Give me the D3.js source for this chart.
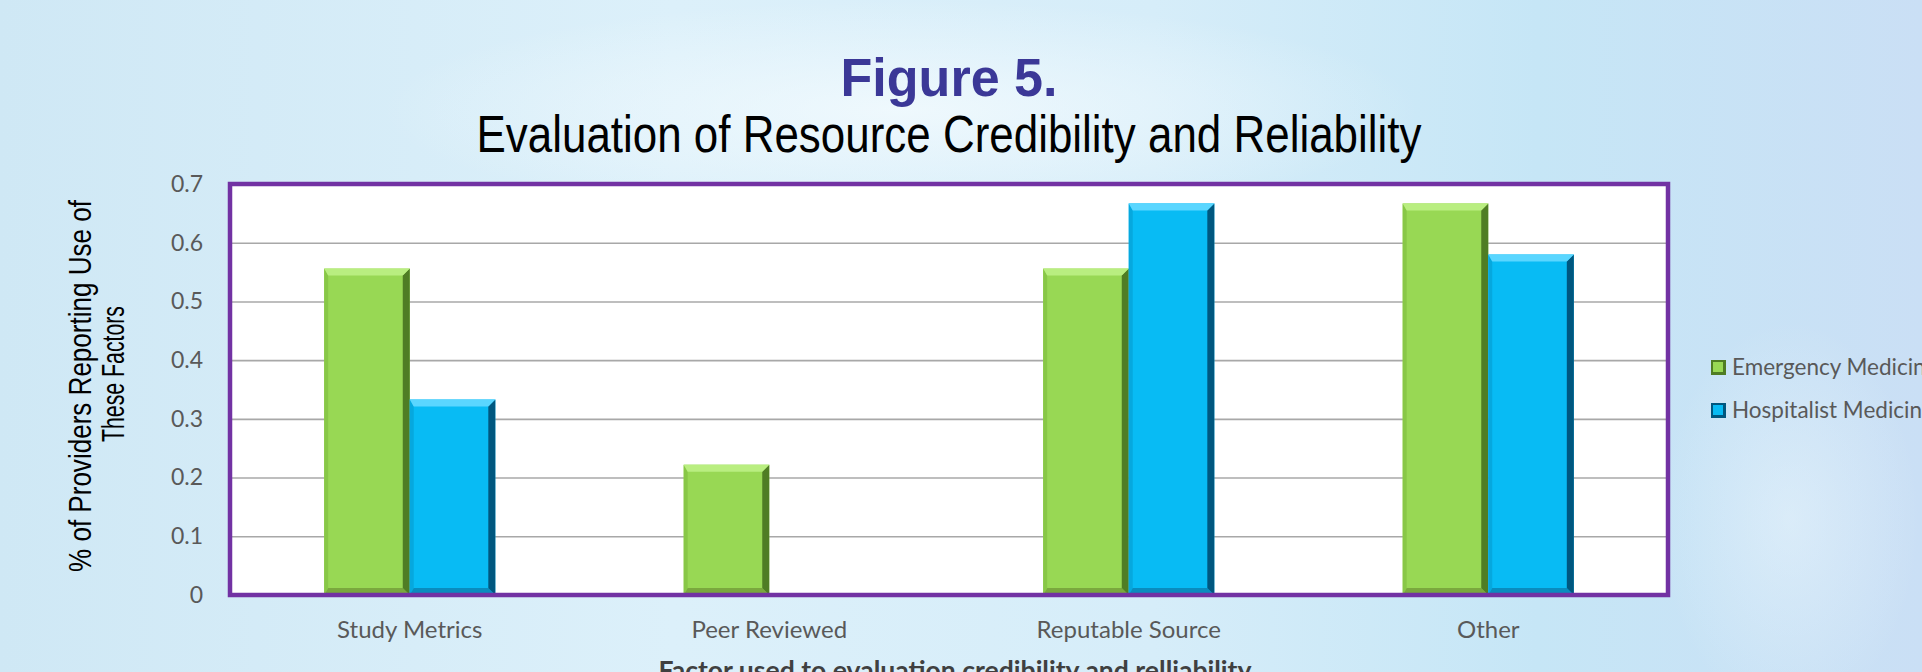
<!DOCTYPE html>
<html>
<head>
<meta charset="utf-8">
<script src="https://cdn.jsdelivr.net/npm/d3@7"></script>
<style>
  body { margin: 0; overflow: hidden; }
  svg { display: block; }
</style>
</head>
<body>
<div id="chart"></div>
<script>
// chart data
var categories = ["Study Metrics", "Peer Reviewed", "Reputable Source", "Other"];
var seriesNames = ["Emergency Medicine", "Hospitalist Medicine"];
var emergency = [0.556, 0.222, 0.556, 0.667];
var hospitalist = [0.333, 0, 0.667, 0.58];
var yTicks = [0, 0.1, 0.2, 0.3, 0.4, 0.5, 0.6, 0.7];

var w = 1922;
var h = 672;
var plot = {left: 230, right: 1668, top: 184, bottom: 595};

// colours per series: main, top bevel, right edge, bottom edge, left edge
var palette = [
    {main: "#98d854", top: "#b9ee80", right: "#4f7d24", bottom: "#7aa83e", left: "#88c747"},
    {main: "#08bbf4", top: "#5ad6ff", right: "#00577f", bottom: "#0a8cbe", left: "#06a8de"}
];

function init() {
    var svg = d3.select("#chart")
        .append("svg")
        .attr("width", w)
        .attr("height", h);

    drawBackground(svg);
    drawTitles(svg);

    var x = d3.scaleBand()
        .domain(categories)
        .range([plot.left, plot.right])
        .padding(0);

    var x1 = d3.scaleBand()
        .domain(seriesNames)
        .range([0, x.bandwidth() * 0.476])
        .padding(0);

    var y = d3.scaleLinear()
        .domain([0, 0.7])
        .range([plot.bottom, plot.top]);

    // plot area
    svg.append("rect")
        .attr("x", plot.left)
        .attr("y", plot.top)
        .attr("width", plot.right - plot.left)
        .attr("height", plot.bottom - plot.top)
        .attr("fill", "#ffffff");

    // gridlines
    svg.append("g")
        .attr("transform", "translate(" + plot.left + ",0)")
        .call(d3.axisLeft(y).tickValues(yTicks.slice(1, -1)).tickSize(-(plot.right - plot.left)).tickFormat(""))
        .call(function(g) {
            g.select(".domain").remove();
            g.selectAll("line").attr("stroke", "#a8a8a8").attr("stroke-width", 1.6);
        });

    // y axis labels
    svg.append("g")
        .attr("transform", "translate(" + (plot.left - 24) + ",0)")
        .call(d3.axisLeft(y).tickValues(yTicks).tickSize(0).tickFormat(function(d) { return d === 0 ? "0" : d3.format(".1f")(d); }))
        .call(function(g) {
            g.select(".domain").remove();
            g.selectAll("text")
                .attr("fill", "#595959")
                .style("font-family", "Lato, 'Open Sans', sans-serif")
                .style("font-size", "23px");
        });

    // bars
    var rows = [];
    categories.forEach(function(c, i) {
        rows.push({cat: c, s: 0, value: emergency[i]});
        rows.push({cat: c, s: 1, value: hospitalist[i]});
    });

    var groupOffset = (x.bandwidth() - x1.range()[1]) / 2;

    rows.forEach(function(d) {
        if (d.value <= 0) return;
        var x0 = x(d.cat) + groupOffset + x1(seriesNames[d.s]);
        var xr = x0 + x1.bandwidth();
        var y0 = y(d.value);
        var yb = y(0);
        var b = 7;
        var col = palette[d.s];
        var bar = svg.append("g");
        bar.append("rect")
            .attr("x", x0).attr("y", y0)
            .attr("width", xr - x0).attr("height", yb - y0)
            .attr("fill", col.main);
        bar.append("polygon") //left edge
            .attr("points", [[x0, y0], [x0 + 4, y0 + b], [x0 + 4, yb - b], [x0, yb]].join(" "))
            .attr("fill", col.left);
        bar.append("polygon") //bottom edge
            .attr("points", [[x0, yb], [x0 + 4, yb - b], [xr - b, yb - b], [xr, yb]].join(" "))
            .attr("fill", col.bottom);
        bar.append("polygon") //right edge
            .attr("points", [[xr, y0], [xr, yb], [xr - b, yb - b], [xr - b, y0 + b]].join(" "))
            .attr("fill", col.right);
        bar.append("polygon") //top bevel
            .attr("points", [[x0, y0], [xr, y0], [xr - b, y0 + b], [x0 + 4, y0 + b]].join(" "))
            .attr("fill", col.top);
    });

    // purple frame
    svg.append("rect")
        .attr("x", plot.left)
        .attr("y", plot.top)
        .attr("width", plot.right - plot.left)
        .attr("height", plot.bottom - plot.top)
        .attr("fill", "none")
        .attr("stroke", "#7232a3")
        .attr("stroke-width", 4.5);

    // category labels
    svg.append("g")
        .attr("transform", "translate(0," + (plot.bottom + 23) + ")")
        .call(d3.axisBottom(x).tickSize(0))
        .call(function(g) {
            g.select(".domain").remove();
            g.selectAll("text")
                .attr("fill", "#595959")
                .style("font-family", "Lato, 'Open Sans', sans-serif")
                .style("font-size", "24px");
        });

    // x axis title (cut by bottom edge as in the source)
    svg.append("text")
        .attr("x", 955)
        .attr("y", 680)
        .attr("text-anchor", "middle")
        .attr("textLength", 593)
        .attr("lengthAdjust", "spacingAndGlyphs")
        .attr("fill", "#404040")
        .style("font-family", "Lato, 'Open Sans', sans-serif")
        .style("font-weight", "bold")
        .style("font-size", "26px")
        .text("Factor used to evaluation credibility and relliability");

    // y axis title
    var yt = svg.append("g")
        .attr("transform", "translate(0,386) rotate(-90)");
    yt.append("text")
        .attr("x", 0).attr("y", 91)
        .attr("text-anchor", "middle")
        .attr("textLength", 372)
        .attr("lengthAdjust", "spacingAndGlyphs")
        .style("font-family", "'Liberation Sans Narrow', 'Liberation Sans', Arial, sans-serif")
        .style("font-size", "32px")
        .attr("fill", "#000")
        .text("% of Providers Reporting Use of");
    yt.append("text")
        .attr("x", 12).attr("y", 124)
        .attr("text-anchor", "middle")
        .attr("textLength", 136)
        .attr("lengthAdjust", "spacingAndGlyphs")
        .style("font-family", "'Liberation Sans Narrow', 'Liberation Sans', Arial, sans-serif")
        .style("font-size", "32px")
        .attr("fill", "#000")
        .text("These Factors");

    drawLegend(svg);
}

function drawBackground(svg) {
    var defs = svg.append("defs");
    var bg = defs.append("linearGradient").attr("id", "bg").attr("x1", "0").attr("x2", "1").attr("y1", "0").attr("y2", "0");
    bg.append("stop").attr("offset", "0%").attr("stop-color", "#cfe8f5");
    bg.append("stop").attr("offset", "35%").attr("stop-color", "#dcf0fa");
    bg.append("stop").attr("offset", "60%").attr("stop-color", "#d6edf9");
    bg.append("stop").attr("offset", "80%").attr("stop-color", "#c6e6f6");
    bg.append("stop").attr("offset", "100%").attr("stop-color", "#cadff5");

    var glow = defs.append("radialGradient").attr("id", "glow");
    glow.append("stop").attr("offset", "0%").attr("stop-color", "#f4fbfe").attr("stop-opacity", 0.8);
    glow.append("stop").attr("offset", "100%").attr("stop-color", "#f4fbfe").attr("stop-opacity", 0);

    svg.append("rect").attr("width", w).attr("height", h).attr("fill", "url(#bg)");
    svg.append("ellipse").attr("cx", 900).attr("cy", 110).attr("rx", 520).attr("ry", 110).attr("fill", "url(#glow)");
    svg.append("ellipse").attr("cx", 1790).attr("cy", 520).attr("rx", 130).attr("ry", 200).attr("fill", "url(#glow)").attr("opacity", 0.5);
}

function drawTitles(svg) {
    svg.append("text")
        .attr("x", 949)
        .attr("y", 96)
        .attr("text-anchor", "middle")
        .attr("textLength", 217)
        .attr("lengthAdjust", "spacingAndGlyphs")
        .attr("fill", "#3b3897")
        .style("font-family", "'Liberation Sans', Arial, sans-serif")
        .style("font-weight", "bold")
        .style("font-size", "53px")
        .text("Figure 5.");

    svg.append("text")
        .attr("x", 949)
        .attr("y", 152)
        .attr("text-anchor", "middle")
        .attr("textLength", 945)
        .attr("lengthAdjust", "spacingAndGlyphs")
        .attr("fill", "#000")
        .style("font-family", "'Liberation Sans Narrow', 'Liberation Sans', Arial, sans-serif")
        .style("font-size", "52px")
        .text("Evaluation of Resource Credibility and Reliability");
}

function drawLegend(svg) {
    var legend = svg.append("g").attr("transform", "translate(1711,0)");
    seriesNames.forEach(function(name, i) {
        var cy = 367 + i * 43;
        var col = palette[i];
        legend.append("rect")
            .attr("x", 0).attr("y", cy - 7)
            .attr("width", 15).attr("height", 15)
            .attr("fill", col.right);
        legend.append("rect")
            .attr("x", 2).attr("y", cy - 5)
            .attr("width", 10).attr("height", 10)
            .attr("fill", col.main);
        legend.append("text")
            .attr("x", 21)
            .attr("y", cy + 8)
            .attr("fill", "#595959")
            .style("font-family", "Lato, 'Open Sans', sans-serif")
            .style("font-size", "22.5px")
            .text(name);
    });
}

window.onload = init();
</script>
</body>
</html>
